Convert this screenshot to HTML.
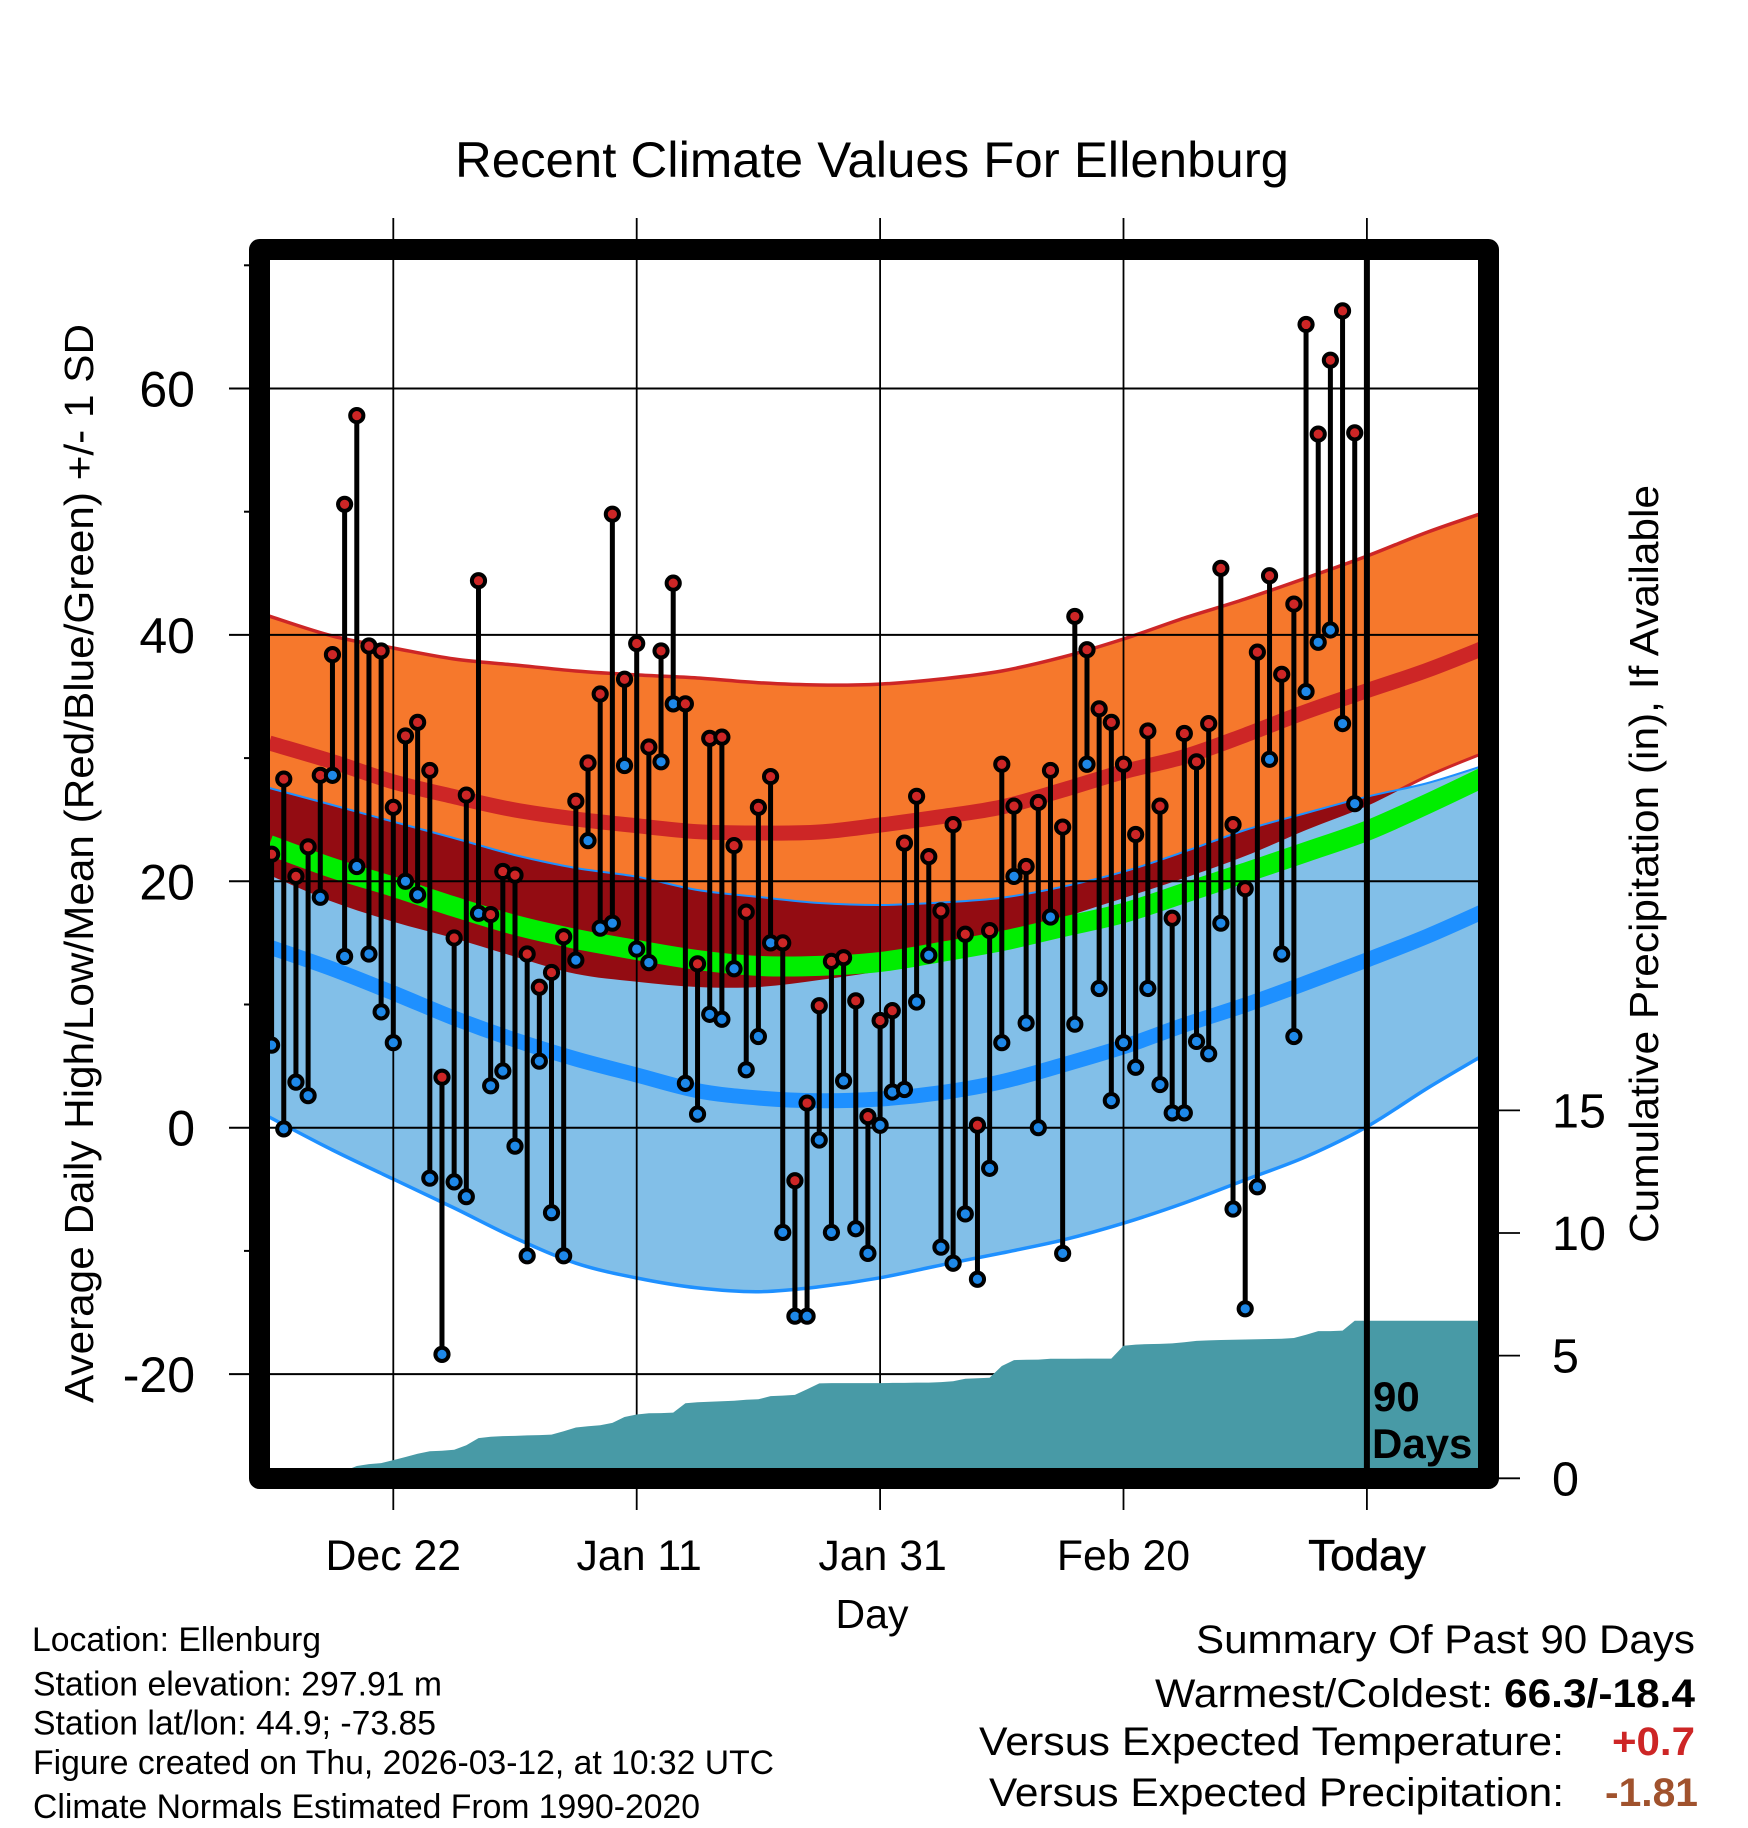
<!DOCTYPE html>
<html lang="en">
<head>
<meta charset="utf-8">
<title>Recent Climate Values For Ellenburg</title>
<style>
  html, body { margin: 0; padding: 0; background: #fff; }
  svg { display: block; }
  text { font-family: "Liberation Sans", Arial, sans-serif; fill: #000; }
</style>
</head>
<body>
<svg id="chart" xmlns="http://www.w3.org/2000/svg" width="1748" height="1828" viewBox="0 0 1748 1828">
  <rect x="0" y="0" width="1748" height="1828" fill="#fff"/>
  <defs>
    <clipPath id="inner-clip"><rect x="270" y="260" width="1208" height="1208"/></clipPath>
    <clipPath id="low-band-clip"><path id="low-band-clip-path" d=""/></clipPath>
  </defs>
  <g id="bands" clip-path="url(#inner-clip)"></g>
  <g id="grid"></g>
  <g id="precip" clip-path="url(#inner-clip)"></g>
  <g id="days"></g>
  <g id="today"></g>
  <rect x="259.5" y="249.5" width="1229" height="1229" fill="none" stroke="#000" stroke-width="21" stroke-linejoin="round"/>
  <g id="axis-labels"></g>

  <text x="872" y="177" text-anchor="middle" font-size="50" textLength="834" lengthAdjust="spacingAndGlyphs">Recent Climate Values For Ellenburg</text>
  <text transform="translate(93 1403) rotate(-90)" font-size="41" textLength="1079" lengthAdjust="spacingAndGlyphs">Average Daily High/Low/Mean (Red/Blue/Green) +/- 1 SD</text>
  <text transform="translate(1658 1243) rotate(-90)" font-size="41" textLength="758" lengthAdjust="spacingAndGlyphs">Cumulative Precipitation (in), If Available</text>
  <text x="872" y="1628" text-anchor="middle" font-size="41">Day</text>
  <text x="1373" y="1411" font-size="42" font-weight="bold">90</text>
  <text x="1372" y="1458" font-size="42" font-weight="bold">Days</text>

  <text x="32" y="1651" font-size="34" textLength="289" lengthAdjust="spacingAndGlyphs">Location: Ellenburg</text>
  <text x="33" y="1695.5" font-size="34" textLength="409" lengthAdjust="spacingAndGlyphs">Station elevation: 297.91 m</text>
  <text x="33" y="1734.5" font-size="34" textLength="403" lengthAdjust="spacingAndGlyphs">Station lat/lon: 44.9; -73.85</text>
  <text x="33" y="1774" font-size="34" textLength="741" lengthAdjust="spacingAndGlyphs">Figure created on Thu, 2026-03-12, at 10:32 UTC</text>
  <text x="33" y="1818" font-size="34" textLength="667" lengthAdjust="spacingAndGlyphs">Climate Normals Estimated From 1990-2020</text>

  <text x="1196" y="1653" font-size="40" textLength="499" lengthAdjust="spacingAndGlyphs">Summary Of Past 90 Days</text>
  <text x="1155" y="1707" font-size="40" textLength="338" lengthAdjust="spacingAndGlyphs">Warmest/Coldest:</text>
  <text x="1504" y="1707" font-size="40" font-weight="bold" textLength="191" lengthAdjust="spacingAndGlyphs">66.3/-18.4</text>
  <text x="979" y="1755" font-size="40" textLength="585" lengthAdjust="spacingAndGlyphs">Versus Expected Temperature:</text>
  <text x="1612" y="1755" font-size="40" font-weight="bold" textLength="83" lengthAdjust="spacingAndGlyphs" style="fill:#cd2626">+0.7</text>
  <text x="989" y="1806" font-size="40" textLength="575" lengthAdjust="spacingAndGlyphs">Versus Expected Precipitation:</text>
  <text x="1605" y="1806" font-size="40" font-weight="bold" textLength="93" lengthAdjust="spacingAndGlyphs" style="fill:#a0522d">-1.81</text>
</svg>

<script>
// ---- Chart data ----
const hiTemps = [22.2,28.3,20.4,22.8,28.6,38.4,50.6,57.8,39.1,38.7,26,31.8,32.9,29,4.1,15.4,27,44.4,17.3,20.8,20.5,14.1,11.4,12.6,15.5,26.5,29.6,35.2,49.8,36.4,39.3,30.9,38.7,44.2,34.4,13.3,31.6,31.7,22.9,17.5,26,28.5,15,-4.3,2,9.9,13.5,13.8,10.3,0.9,8.7,9.5,23.1,26.9,22,17.6,24.6,15.7,0.2,16,29.5,26.1,21.2,26.4,29,24.4,41.5,38.8,34,32.9,29.5,23.8,32.2,26.1,17,32,29.7,32.8,45.4,24.6,19.4,38.6,44.8,36.8,42.5,65.2,56.3,62.3,66.3,56.4];
const lowTemps = [6.7,-0.1,3.7,2.6,18.7,28.6,13.9,21.2,14.1,9.4,6.9,20,18.9,-4.1,-18.4,-4.4,-5.6,17.4,3.4,4.6,-1.5,-10.4,5.4,-6.9,-10.4,13.6,23.3,16.2,16.6,29.4,14.5,13.4,29.7,34.4,3.6,1.1,9.2,8.8,12.9,4.7,7.4,15,-8.5,-15.3,-15.3,-1,-8.5,3.8,-8.2,-10.2,0.2,2.9,3.1,10.2,14,-9.7,-11,-7,-12.3,-3.3,6.9,20.4,8.5,0,17.1,-10.2,8.4,29.5,11.3,2.2,6.9,4.9,11.3,3.5,1.2,1.2,7,6,16.6,-6.6,-14.7,-4.8,29.9,14.1,7.4,35.4,39.4,40.4,32.8,26.3];
const precipInches = [0,0,0,0,0,0,0.3,0.5,0.58,0.62,0.74,0.87,1.0,1.1,1.12,1.16,1.35,1.64,1.69,1.72,1.73,1.75,1.76,1.78,1.92,2.07,2.12,2.16,2.26,2.5,2.6,2.65,2.66,2.68,3.06,3.1,3.12,3.14,3.16,3.2,3.22,3.35,3.37,3.4,3.63,3.87,3.88,3.88,3.88,3.88,3.88,3.89,3.89,3.9,3.9,3.92,3.96,4.06,4.08,4.1,4.58,4.82,4.83,4.84,4.87,4.87,4.87,4.88,4.88,4.88,5.4,5.45,5.47,5.48,5.5,5.55,5.6,5.62,5.64,5.65,5.66,5.67,5.68,5.69,5.72,5.85,6.0,6.0,6.02,6.42,6.42,6.42,6.42,6.42,6.42,6.42,6.42,6.42,6.42,6.42,6.42];
const normalDays = [-0.2,5,10,15,20,25,30,35,40,45,50,55,60,65,70,75,80,85,90,95,100];
const hiUpper = [41.53,39.91,38.94,38.04,37.56,37.07,36.75,36.5,36.12,35.93,36.01,36.42,37.07,38.2,39.67,41.37,42.91,44.62,46.4,48.35,50.06];
const hiMean = [31.23,29.71,28.08,26.87,25.79,25.06,24.51,24.03,23.92,24.0,24.57,25.24,26.03,27.41,28.9,30.11,31.87,33.77,35.47,37.15,39.1];
const hiLower = [20.51,18.34,16.72,15.37,13.88,12.48,11.85,11.42,11.42,11.99,12.72,13.86,15.24,17.02,18.64,20.27,22.05,24.16,26.11,28.55,30.58];
const lowUpper = [27.57,26.19,24.84,23.51,22.13,21.08,20.37,19.29,18.73,18.24,18.08,18.28,18.67,19.56,20.78,22.4,24.16,25.54,26.87,27.98,29.52];
const lowMean = [14.67,12.88,10.93,8.9,7.12,5.58,4.28,3.0,2.41,2.19,2.33,2.84,3.73,5.09,6.57,8.34,9.96,11.75,13.61,15.56,17.75];
const lowLower = [0.87,-1.81,-4.17,-6.52,-8.95,-11.0,-12.2,-13.0,-13.31,-12.91,-12.18,-11.15,-10.17,-9.12,-7.75,-6.11,-4.24,-2.35,0.08,3.22,6.14];
const avgMean = [22.95,21.08,19.56,17.94,16.45,15.32,14.42,13.61,13.13,13.13,13.45,14.26,15.15,16.29,17.43,19.05,20.7,22.38,24.1,26.3,28.65];
const xTickDays = [10,30,50,70,90];
const xTickLabels = ['Dec 22','Jan 11','Jan 31','Feb 20','Today'];
const yTickValues = [-20,0,20,40,60];
const yMinorValues = [-10,10,30,50,70];
const precipTickValues = [0,5,10,15];

// ---- Axis functions ----
function xScale(day) { return 271.6 + 12.17 * day; }
function yScale(temp) { return 1127.7 - 12.32 * temp; }
function yPrecip(inches) { return 1478.3 - 24.53 * inches; }

const NS = 'http://www.w3.org/2000/svg';
function mk(parent, tag, attrs) {
  const el = document.createElementNS(NS, tag);
  for (const k in attrs) el.setAttribute(k, attrs[k]);
  parent.appendChild(el);
  return el;
}
function curvePoints(values) {
  return values.map(function (v, i) { return [xScale(normalDays[i]), yScale(v)]; });
}
function smooth(pts) {
  let d = '';
  for (let i = 0; i < pts.length - 1; i++) {
    const p0 = pts[Math.max(i - 1, 0)], p1 = pts[i], p2 = pts[i + 1], p3 = pts[Math.min(i + 2, pts.length - 1)];
    const c1 = [p1[0] + (p2[0] - p0[0]) / 6, p1[1] + (p2[1] - p0[1]) / 6];
    const c2 = [p2[0] - (p3[0] - p1[0]) / 6, p2[1] - (p3[1] - p1[1]) / 6];
    d += ' C' + c1[0].toFixed(1) + ' ' + c1[1].toFixed(1) + ' ' + c2[0].toFixed(1) + ' ' + c2[1].toFixed(1) + ' ' + p2[0].toFixed(1) + ' ' + p2[1].toFixed(1);
  }
  return d;
}
function linePath(values) {
  const pts = curvePoints(values);
  return 'M' + pts[0][0].toFixed(1) + ' ' + pts[0][1].toFixed(1) + smooth(pts);
}
function bandPath(upper, lower) {
  const lowPts = curvePoints(lower).reverse();
  return linePath(upper) + ' L' + lowPts[0][0].toFixed(1) + ' ' + lowPts[0][1].toFixed(1) + smooth(lowPts) + ' Z';
}

// ---- Bands ----
const bands = document.getElementById('bands');
const hiBandD = bandPath(hiUpper, hiLower);
const lowBandD = bandPath(lowUpper, lowLower);
document.getElementById('low-band-clip-path').setAttribute('d', lowBandD);

const hiBand = mk(bands, 'path', { d: hiBandD, fill: '#f6782c' });



const hiUpperLine = mk(bands, 'path', { d: linePath(hiUpper), fill: 'none', stroke: '#cd2626', 'stroke-width': 3.5 });



const hiLowerLine = mk(bands, 'path', { d: linePath(hiLower), fill: 'none', stroke: '#cd2626', 'stroke-width': 3 });



const lowBand = mk(bands, 'path', { d: lowBandD, fill: '#82bfe8' });



const overlapBand = mk(bands, 'path', { d: hiBandD, fill: '#930c12', 'clip-path': 'url(#low-band-clip)' });



const lowUpperLine = mk(bands, 'path', { d: linePath(lowUpper), fill: 'none', stroke: '#1e90ff', 'stroke-width': 2 });



const lowLowerLine = mk(bands, 'path', { d: linePath(lowLower), fill: 'none', stroke: '#1e90ff', 'stroke-width': 3.5 });



const hiMeanLine = mk(bands, 'path', { d: linePath(hiMean), fill: 'none', stroke: '#cd2626', 'stroke-width': 15 });



const lowMeanLine = mk(bands, 'path', { d: linePath(lowMean), fill: 'none', stroke: '#1e90ff', 'stroke-width': 15 });



const avgMeanLine = mk(bands, 'path', { d: linePath(avgMean), fill: 'none', stroke: '#00ee00', 'stroke-width': 20 });



// ---- Grid and ticks ----
const grid = document.getElementById('grid');
const labels = document.getElementById('axis-labels');
yTickValues.forEach(function (v) {
  const line = mk(grid, 'line', { x1: 229, x2: 1478, y1: yScale(v), y2: yScale(v), stroke: '#000', 'stroke-width': 2 });
  
  
  const t = mk(labels, 'text', { x: 195, y: yScale(v) + 18, 'text-anchor': 'end', 'font-size': 50 });
  t.textContent = String(v);
  
  
});
yMinorValues.forEach(function (v) {
  const tick = mk(grid, 'line', { x1: 244, x2: 250, y1: yScale(v), y2: yScale(v), stroke: '#000', 'stroke-width': 2 });
  
  
});
xTickDays.forEach(function (d, i) {
  const line = mk(grid, 'line', { x1: xScale(d), x2: xScale(d), y1: 218, y2: 1510, stroke: '#000', 'stroke-width': 1.8 });
  
  
  const isToday = xTickLabels[i] === 'Today';
  const isJan = xTickLabels[i].indexOf('Jan') === 0;
  const attrs = { x: xScale(d) + (isJan ? 2.5 : 0), y: 1570, 'text-anchor': 'middle', 'font-size': isToday ? 44 : 42.8 };
  if (isToday) { attrs.stroke = '#000'; attrs['stroke-width'] = 0.7; }
  const t = mk(labels, 'text', attrs);
  t.textContent = xTickLabels[i];
  
  
});
precipTickValues.forEach(function (p) {
  const tick = mk(labels, 'line', { x1: 1499, x2: 1520, y1: yPrecip(p), y2: yPrecip(p), stroke: '#000', 'stroke-width': 1.8 });
  
  
  const t = mk(labels, 'text', { x: 1552, y: yPrecip(p) + 17, 'font-size': 48.5 });
  t.textContent = String(p);
  
  
});

// ---- Precipitation area ----
let precipD = 'M' + xScale(0) + ' ' + yPrecip(0);
precipInches.forEach(function (p, i) {
  precipD += ' L' + xScale(i).toFixed(1) + ' ' + yPrecip(p).toFixed(1);
});
precipD += ' L' + xScale(precipInches.length - 1).toFixed(1) + ' ' + yPrecip(0) + ' Z';
const precipArea = mk(document.getElementById('precip'), 'path', { d: precipD, fill: '#489aa6' });



// ---- Daily stems and markers ----
const daysGroup = document.getElementById('days');
hiTemps.forEach(function (hi, i) {
  const lo = lowTemps[i];
  const x = xScale(i);
  const stem = mk(daysGroup, 'line', { x1: x, x2: x, y1: yScale(hi), y2: yScale(lo), stroke: '#000', 'stroke-width': 5 });
  
  
  const loDot = mk(daysGroup, 'circle', { cx: x, cy: yScale(lo), r: 6.6, fill: '#1e88e8', stroke: '#000', 'stroke-width': 4 });
  
  
  const hiDot = mk(daysGroup, 'circle', { cx: x, cy: yScale(hi), r: 6.6, fill: '#cd2626', stroke: '#000', 'stroke-width': 4 });
  
  
});

// ---- Today line ----
const todayLine = mk(document.getElementById('today'), 'line', { x1: xScale(90), x2: xScale(90), y1: 250, y2: 1478, stroke: '#000', 'stroke-width': 6 });


</script>
</body>
</html>
